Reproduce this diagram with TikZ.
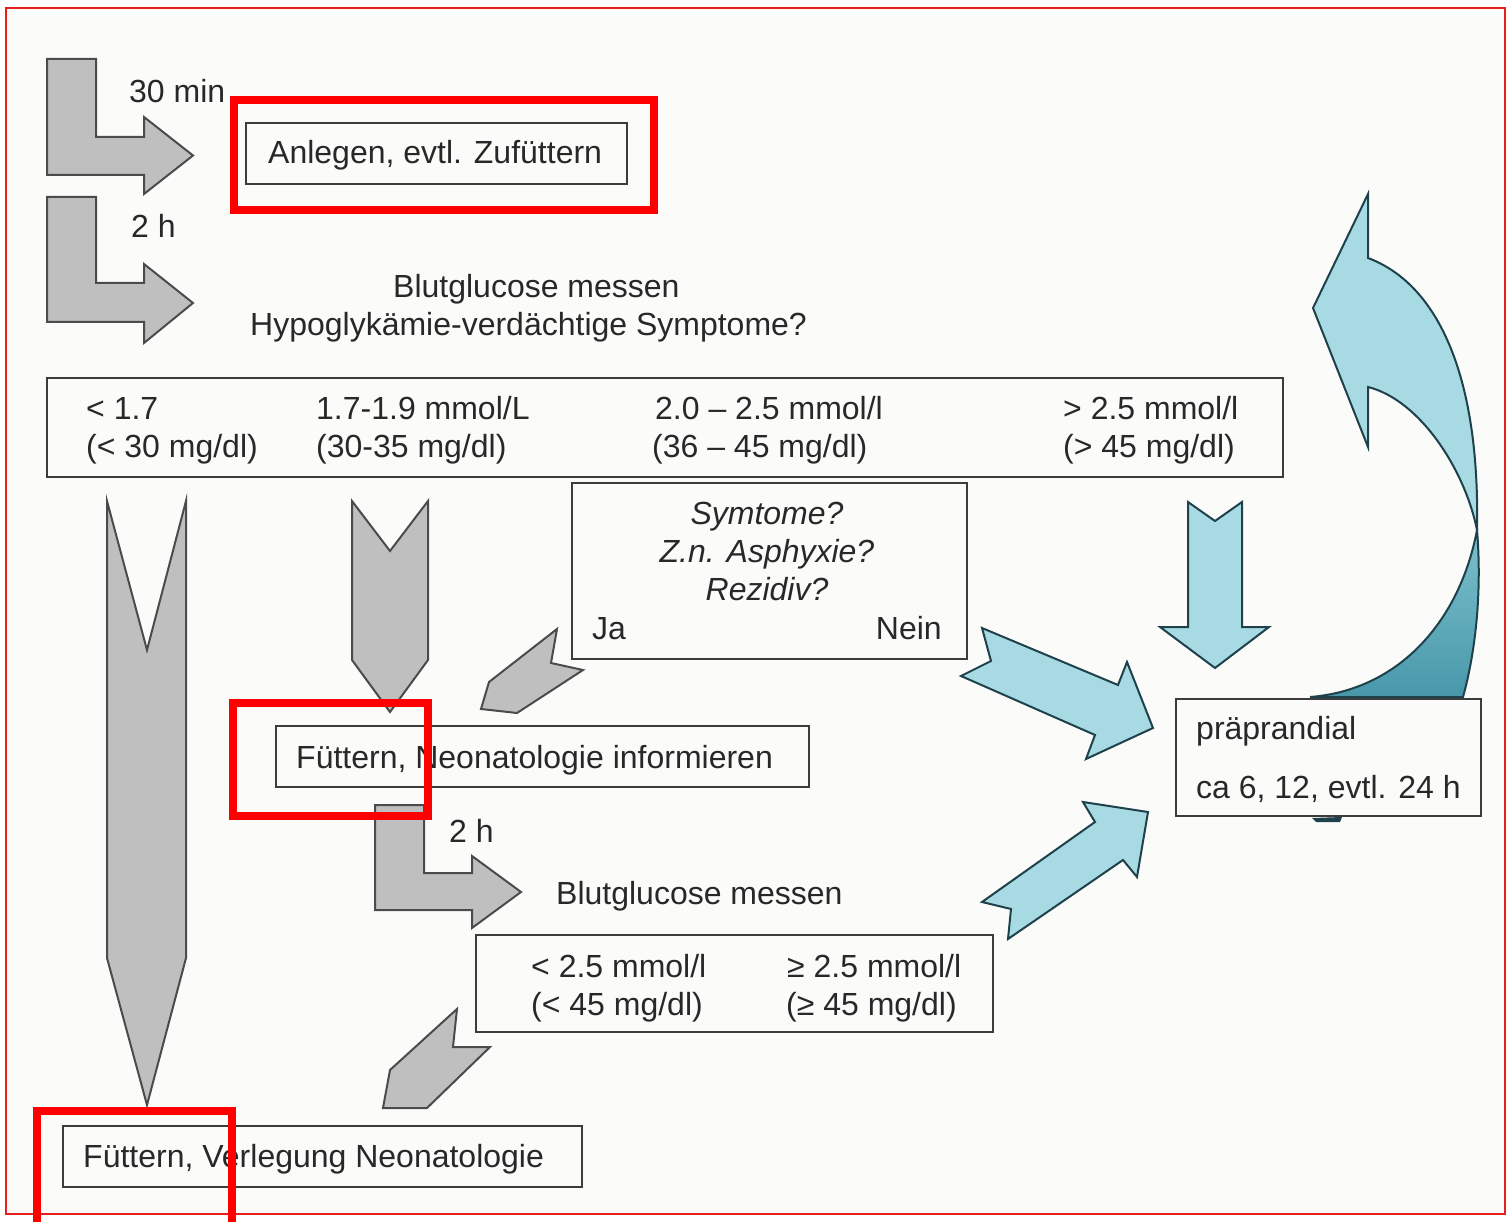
\documentclass[tikz,border=0pt]{standalone}
\usepackage{fontspec}
\setmainfont{Liberation Sans}
\definecolor{bg}{RGB}{251,252,250}
\definecolor{grayfill}{RGB}{190,191,190}
\definecolor{grayline}{RGB}{75,75,75}
\definecolor{bluefill}{RGB}{168,218,228}
\definecolor{blueline}{RGB}{30,65,75}
\definecolor{tealtop}{RGB}{125,192,205}
\definecolor{tealbot}{RGB}{72,152,170}
\definecolor{boxline}{RGB}{60,60,60}
\definecolor{txt}{RGB}{40,40,40}
\definecolor{hl}{RGB}{255,0,0}
\definecolor{frame}{RGB}{232,30,30}
\tikzset{
  box/.style={draw=boxline, line width=2.5pt, fill=bg, inner sep=0pt, outer sep=0pt},
  lbl/.style={anchor=base west, inner sep=0pt, text=txt, font=\fontsize{32}{38}\selectfont},
  rlbl/.style={anchor=base east, inner sep=0pt, text=txt, font=\fontsize{32}{38}\selectfont},
  clbl/.style={anchor=base, inner sep=0pt, text=txt, font=\fontsize{32}{38}\selectfont\itshape},
  grayarrow/.style={fill=grayfill, draw=grayline, line width=2pt, line join=miter},
  bluearrow/.style={fill=bluefill, draw=blueline, line width=2pt, line join=miter},
  highlight/.style={draw=hl, line width=8pt},
}
\begin{document}
\begin{tikzpicture}[x=1pt,y=-1pt]
\useasboundingbox (0,0) rectangle (1508,1222);
\fill[white] (0,0) rectangle (1508,1222);
\fill[bg] (6,8) rectangle (1505,1214);
\draw[frame, line width=1.5pt] (6,8) rectangle (1505,1214);

% gray L-shaped arrows
\draw[grayarrow] (47,59) -- (96,59) -- (96,137) -- (144,137) -- (144,117) -- (193,155.5) -- (144,194) -- (144,175) -- (47,175) -- cycle;
\draw[grayarrow] (47,197) -- (96,197) -- (96,283) -- (144,283) -- (144,264) -- (193,303) -- (144,343) -- (144,322) -- (47,322) -- cycle;
\draw[grayarrow] (375,805) -- (424,805) -- (424,873) -- (472,873) -- (472,856) -- (521,892) -- (472,928) -- (472,910) -- (375,910) -- cycle;

% gray chevrons
\draw[grayarrow] (107,501) -- (147,650) -- (186,501) -- (186,958) -- (147,1105) -- (107,958) -- cycle;
\draw[grayarrow] (352,501) -- (390,551) -- (428,501) -- (428,660) -- (390,712) -- (352,660) -- cycle;
\draw[grayarrow] (557,629) -- (551,663) -- (583,670) -- (517,713) -- (481,709) -- (489,682) -- cycle;
\draw[grayarrow] (457,1009) -- (453,1047) -- (490,1047) -- (427,1108) -- (383,1108) -- (390,1070) -- cycle;

% light blue arrows
\draw[bluearrow] (1188,502) -- (1215,521) -- (1242,502) -- (1242,627) -- (1269,627) -- (1215,668) -- (1160,627) -- (1188,627) -- cycle;
\draw[bluearrow] (982,628) -- (1118,685) -- (1127,662) -- (1153,728) -- (1086,759) -- (1095,735) -- (961,676) -- (991,661) -- cycle;
\draw[bluearrow] (982,902) -- (1095,822) -- (1083,802) -- (1148,812) -- (1137,877) -- (1123,860) -- (1008,939) -- (1011,909) -- cycle;

% curved arrow
\draw[blueline, line width=2pt, top color=tealtop, bottom color=tealbot]
  (1477,530) .. controls (1460,620) and (1400,690) .. (1310,697)
  -- (1463,697) .. controls (1476,650) and (1482,590) .. (1477,530) -- cycle;
\draw[bluearrow, line join=miter]
  (1368,258) .. controls (1440,285) and (1480,380) .. (1477,530)
  .. controls (1465,470) and (1420,400) .. (1368,387)
  -- (1368,447) -- (1313,308) -- (1368,194) -- cycle;
\fill[blueline] (1312,818) -- (1342,817) -- (1340,822) -- (1316,822) -- cycle;

% boxes
\node[box, minimum width=381pt, minimum height=61pt] (anlegen) at (436.5,153.5) {};
\node[box, minimum width=1236pt, minimum height=99pt] (table) at (665,427.5) {};
\node[box, minimum width=395pt, minimum height=176pt] (frage) at (769.5,571) {};
\node[box, minimum width=533pt, minimum height=61pt] (neo) at (542.5,756.5) {};
\node[box, minimum width=517pt, minimum height=97pt] (table2) at (734.5,983.5) {};
\node[box, minimum width=519pt, minimum height=61pt] (verleg) at (322.5,1156.5) {};
\node[box, minimum width=305pt, minimum height=117pt] (prae) at (1328.5,757.5) {};

% texts
\node[lbl] (t30) at (129,103) {30 min};
\node[lbl] (t2h) at (131,238) {2 h};
\node[lbl] (tanl) at (268,164) {Anlegen, evtl. Zufüttern};
\node[lbl] (tbg1) at (393,298) {Blutglucose messen};
\node[lbl] (thyp) at (250,336) {Hypoglykämie-verdächtige Symptome?};

\node[lbl] (c1a) at (86,420) {< 1.7};
\node[lbl] (c1b) at (86,458) {(< 30 mg/dl)};
\node[lbl] (c2a) at (316,420) {1.7-1.9 mmol/L};
\node[lbl] (c2b) at (316,458) {(30-35 mg/dl)};
\node[lbl] (c3a) at (655,420) {2.0 – 2.5 mmol/l};
\node[lbl] (c3b) at (652,458) {(36 – 45 mg/dl)};
\node[lbl] (c4a) at (1063,420) {> 2.5 mmol/l};
\node[lbl] (c4b) at (1063,458) {(> 45 mg/dl)};

\node[clbl] (q1) at (767,524) {Symtome?};
\node[clbl] (q2) at (767,562) {Z.n. Asphyxie?};
\node[clbl] (q3) at (767,600) {Rezidiv?};
\node[lbl] (ja) at (592,639) {Ja};
\node[rlbl] (nein) at (942,639) {Nein};

\node[lbl] (tneo) at (296,768) {Füttern, Neonatologie informieren};
\node[lbl] (t2h2) at (449,842) {2 h};
\node[lbl] (tbg2) at (556,904) {Blutglucose messen};
\node[lbl] (d1a) at (531,977) {< 2.5 mmol/l};
\node[lbl] (d1b) at (531,1015) {(< 45 mg/dl)};
\node[lbl] (d2a) at (787,977) {≥ 2.5 mmol/l};
\node[lbl] (d2b) at (786,1015) {(≥ 45 mg/dl)};
\node[lbl] (tver) at (83,1167) {Füttern, Verlegung Neonatologie};
\node[lbl] (tp1) at (1196,739) {präprandial};
\node[lbl] (tp2) at (1196,798) {ca 6, 12, evtl. 24 h};

% red highlights
\draw[highlight] (234,100) rectangle (654,210);
\draw[highlight] (233,703) rectangle (428,816);
\draw[highlight] (232,1226) -- (232,1111) -- (37,1111) -- (37,1226);
\end{tikzpicture}
\end{document}
